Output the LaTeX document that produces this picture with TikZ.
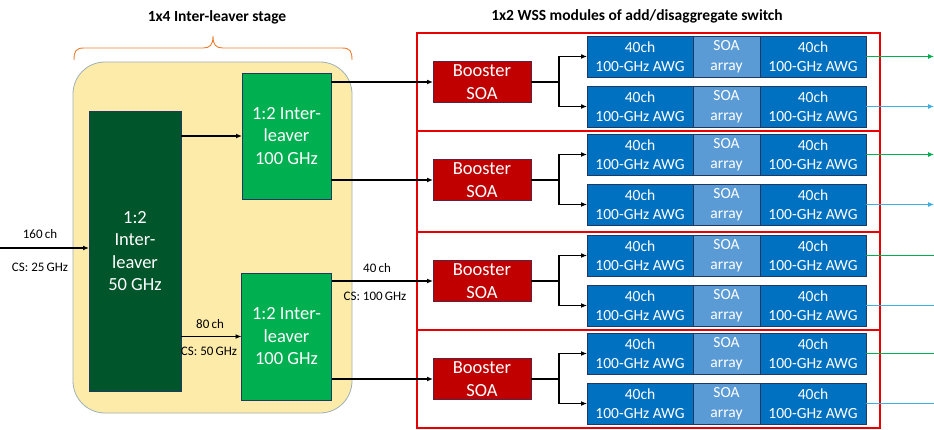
\documentclass[tikz,border=0pt]{standalone}
\usepackage{fontspec}
\setmainfont{Carlito}
\usetikzlibrary{arrows.meta}
\definecolor{yfill}{HTML}{FDEBAA}
\definecolor{ydraw}{HTML}{9DB0B8}
\definecolor{dkgreen}{HTML}{00552A}
\definecolor{ltgreen}{HTML}{00B050}
\definecolor{frame}{HTML}{E80000}
\definecolor{boost}{HTML}{C00000}
\definecolor{awg}{HTML}{0070C0}
\definecolor{soa}{HTML}{5B9BD5}
\definecolor{navy}{HTML}{1F3864}
\definecolor{outg}{HTML}{00B050}
\definecolor{outb}{HTML}{41AEE0}
\definecolor{brace}{HTML}{ED7D31}
\begin{document}
\begin{tikzpicture}[x=1pt,y=-1pt,
  every node/.style={inner sep=0pt,outer sep=0pt},
  title/.style={font=\fontsize{15.5}{18}\selectfont\bfseries},
  lbl/.style={font=\fontsize{13}{15}\selectfont},
  ilv/.style={draw=navy,line width=0.6pt,text=white,align=center,
     font=\fontsize{18.5}{22.5}\selectfont},
  boostbox/.style={draw=navy!60!boost,line width=0.6pt,fill=boost,text=white,align=center,
     minimum width=98pt,minimum height=41pt,font=\fontsize{18.5}{23}\selectfont},
  awgbox/.style={draw=navy,line width=0.6pt,fill=awg,text=white,align=center,
     minimum width=106pt,minimum height=41pt,font=\fontsize{15.5}{19.5}\selectfont},
  soabox/.style={draw=navy,line width=0.6pt,fill=soa,text=white,align=center,
     minimum width=67pt,minimum height=41pt,font=\fontsize{15.5}{19.5}\selectfont},
  conn/.style={line width=1.3pt,black},
  arr/.style={conn,-{Latex[length=6pt,width=5pt]}},
  redframe/.style={draw=frame,line width=2.2pt},
  greenout/.style={draw=outg,line width=1.1pt},
  blueout/.style={draw=outb,line width=1.1pt},
  tipon/.style={-{Latex[length=6pt,width=5pt]}},
  tipoff/.style={}
]
\useasboundingbox (0,0) rectangle (934,430);

% titles
\node[title] (t1) at (217,17) {1x4 Inter-leaver stage};
\node[title] (t2) at (637,16) {1x2 WSS modules of add/disaggregate switch};

% brace
\draw[brace,line width=0.9pt] (74,60) .. controls (74,51) and (76,48) .. (84,48) -- (203,48)
  .. controls (210,48) and (213,45) .. (213,36) .. controls (213,45) and (216,48) .. (223,48)
  -- (342,48) .. controls (350,48) and (352,51) .. (352,60);

% yellow stage
\draw[fill=yfill,draw=ydraw,line width=0.8pt,rounded corners=32pt] (73,62) rectangle (352,413);

% interleavers
\node[ilv,fill=dkgreen,minimum width=92pt,minimum height=280pt] (dg) at (135,251)
  {1:2\\Inter-\\leaver\\50 GHz};
\node[ilv,fill=ltgreen,minimum width=89pt,minimum height=126pt] (g1) at (286.5,136)
  {1:2 Inter-\\leaver\\100 GHz};
\node[ilv,fill=ltgreen,minimum width=90pt,minimum height=127pt] (g2) at (286.5,336.5)
  {1:2 Inter-\\leaver\\100 GHz};

\coordinate (in) at (0,248);
\draw[arr] (in) -- (in -| dg.west);
\draw[arr] (dg.east |- g1.west) -- (g1.west);
\draw[arr] (dg.east |- g2.west) -- (g2.west);

\node[lbl] (l160) at (40,234) {160\,ch};
\node[lbl] (lcs25) at (40,267) {CS: 25\,GHz};
\node[lbl] (l80) at (210,324) {80\,ch};
\node[lbl] (lcs50) at (209,351) {CS: 50\,GHz};
\node[lbl] (l40) at (377,268) {40\,ch};
\node[lbl] (lcs100) at (375,296) {CS: 100\,GHz};

% red frames
\draw[redframe] (417,33) rectangle (880,131);
\draw[redframe] (417,131) rectangle (880,232);
\draw[redframe] (417,232) rectangle (880,330);
\draw[redframe] (417,330) rectangle (880,428);

\coordinate (rightedge) at (934,0);

% modules
\foreach \k/\T/\src/\tipst in {1/33/g1/tipon,2/131/g1/tipon,3/232/g2/tipoff,4/330/g2/tipoff}{
  \pgfmathsetmacro{\yb}{\T+49}
  \pgfmathsetmacro{\ya}{\T+23.5}
  \pgfmathsetmacro{\yc}{\T+73.5}
  \node[boostbox] (b\k) at (482,\yb) {Booster\\SOA};
  \draw[arr] (\src.east |- b\k.west) -- (b\k.west);
  \node[awgbox] (a\k a) at (640,\ya) {40ch\\100-GHz AWG};
  \node[soabox] (s\k a) at (726.5,\ya) {SOA\\array};
  \node[awgbox] (c\k a) at (813,\ya) {40ch\\100-GHz AWG};
  \node[awgbox] (a\k b) at (640,\yc) {40ch\\100-GHz AWG};
  \node[soabox] (s\k b) at (726.5,\yc) {SOA\\array};
  \node[awgbox] (c\k b) at (813,\yc) {40ch\\100-GHz AWG};
  \coordinate (sp\k) at (559,\yb);
  \draw[conn] (b\k.east) -- (sp\k);
  \draw[arr] (sp\k) |- (a\k a.west);
  \draw[arr] (sp\k) |- (a\k b.west);
  \draw[greenout,\tipst] (c\k a.east) -- (c\k a.east -| rightedge);
  \draw[blueout,\tipst] (c\k b.east) -- (c\k b.east -| rightedge);
}
\end{tikzpicture}
\end{document}
